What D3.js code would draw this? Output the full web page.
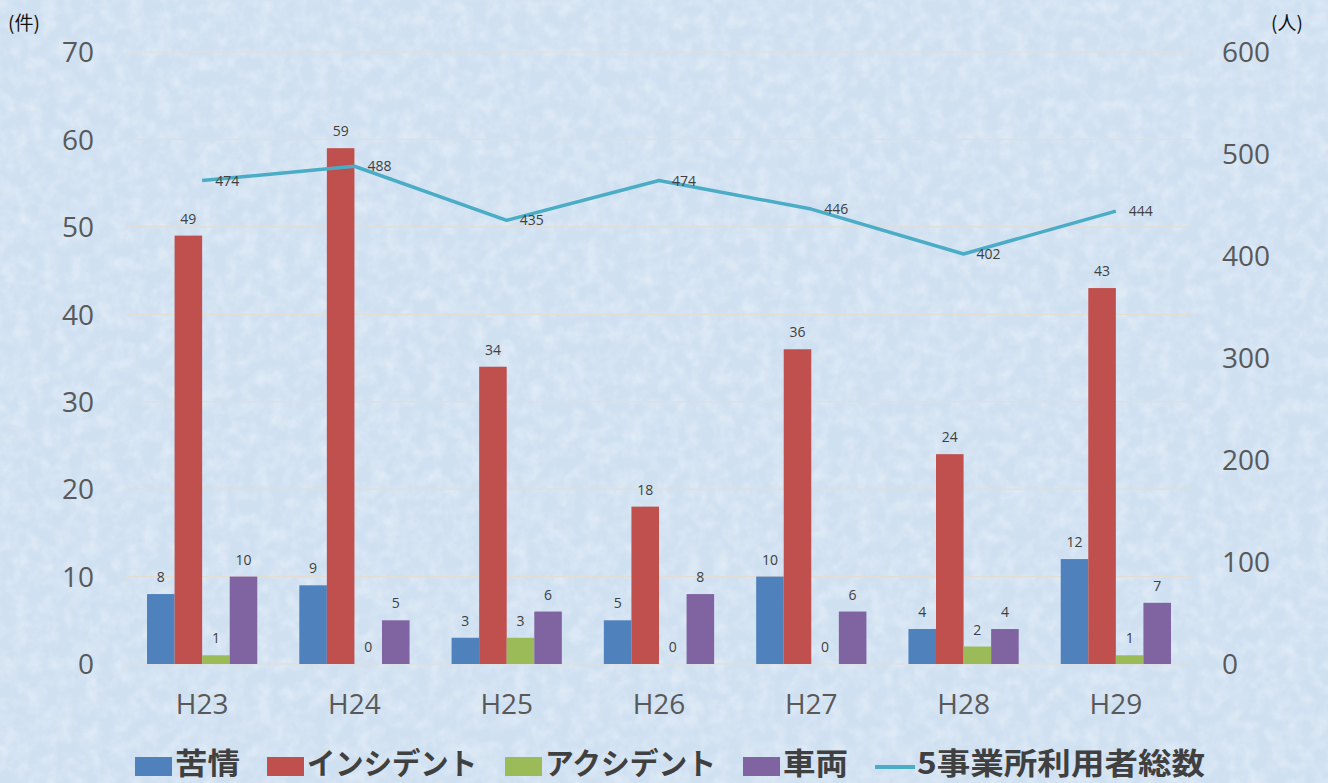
<!DOCTYPE html>
<html lang="ja">
<head>
<meta charset="UTF-8">
<script src="https://cdn.jsdelivr.net/npm/d3@7"></script>
<title>件数と利用者総数</title>
<style>
    body { margin: 0; background: #d8e7f4; }
    svg { display: block; font-family: "Noto Sans CJK JP", "Noto Sans", sans-serif; }
</style>
</head>
<body>
<svg width="1328" height="783"></svg>
<script>
    var years = ["H23", "H24", "H25", "H26", "H27", "H28", "H29"];
    var kujo = [8, 9, 3, 5, 10, 4, 12];
    var incident = [49, 59, 34, 18, 36, 24, 43];
    var accident = [1, 0, 3, 0, 0, 2, 1];
    var sharyo = [10, 5, 6, 8, 6, 4, 7];
    var users = [474, 488, 435, 474, 446, 402, 444];
    var leftTicks = [0, 10, 20, 30, 40, 50, 60, 70];
    var rightTicks = [0, 100, 200, 300, 400, 500, 600];

    var series = [
        {name: "苦情", values: kujo, color: "#4f81bd"},
        {name: "インシデント", values: incident, color: "#c0504d"},
        {name: "アクシデント", values: accident, color: "#9bbb59"},
        {name: "車両", values: sharyo, color: "#8064a2"}
    ];
    var lineColor = "#4bacc6";

    var svg = d3.select("svg");
    var width = 1328, height = 783;
    var plot = {left: 126, right: 1192, top: 52, bottom: 664};

    // textured background
    var defs = svg.append("defs");
    var f = defs.append("filter").attr("id", "tex").attr("x", 0).attr("y", 0)
        .attr("width", "100%").attr("height", "100%");
    f.append("feTurbulence").attr("type", "fractalNoise").attr("baseFrequency", 0.07)
        .attr("numOctaves", 3).attr("seed", 4).attr("result", "n");
    f.append("feColorMatrix").attr("in", "n").attr("type", "matrix")
        .attr("values", "0 0 0 0 1  0 0 0 0 1  0 0 0 0 1  1.1 0 0 0 -0.4");
    svg.append("rect").attr("width", width).attr("height", height).attr("fill", "#cfe0f1");
    svg.append("rect").attr("width", width).attr("height", height)
        .attr("filter", "url(#tex)").attr("opacity", 0.6);

    var x = d3.scaleBand().domain(years).range([plot.left, plot.right])
        .paddingInner(0.276).paddingOuter(0.138);
    var xs = d3.scaleBand().domain(d3.range(series.length)).range([0, x.bandwidth()]);
    var y = d3.scaleLinear().domain([0, 70]).range([plot.bottom, plot.top]);
    var y2 = d3.scaleLinear().domain([0, 600]).range([plot.bottom, plot.top]);

    // gridlines
    svg.append("g").selectAll("line").data(leftTicks).enter().append("line")
        .attr("x1", plot.left).attr("x2", plot.right)
        .attr("y1", function (d) { return y(d); }).attr("y2", function (d) { return y(d); })
        .attr("stroke", "#e3ddd6").attr("stroke-width", 1.2);

    // left axis
    var axL = svg.append("g").attr("transform", "translate(94,0)")
        .call(d3.axisLeft(y).tickValues(leftTicks).tickSize(0).tickPadding(0));
    axL.select(".domain").remove();
    axL.selectAll("text").attr("font-size", 28).attr("fill", "#595959")
        .attr("font-family", "Open Sans, sans-serif").attr("dy", "0.35em");

    // right axis
    var axR = svg.append("g").attr("transform", "translate(1222,0)")
        .call(d3.axisRight(y2).tickValues(rightTicks).tickSize(0).tickPadding(0));
    axR.select(".domain").remove();
    axR.selectAll("text").attr("font-size", 28).attr("fill", "#595959")
        .attr("font-family", "Open Sans, sans-serif").attr("dy", "0.35em");

    // x axis labels
    var axB = svg.append("g").attr("transform", "translate(0," + plot.bottom + ")")
        .call(d3.axisBottom(x).tickSize(0).tickPadding(30));
    axB.select(".domain").remove();
    axB.selectAll("text").attr("font-size", 28).attr("fill", "#595959")
        .attr("font-family", "Open Sans, sans-serif");

    // unit labels
    svg.append("text").attr("x", 8).attr("y", 30).attr("font-size", 19).attr("fill", "#111").text("(件)");
    svg.append("text").attr("x", 1271).attr("y", 30).attr("font-size", 19).attr("fill", "#111").text("(人)");

    // bars
    series.forEach(function (s, si) {
        var g = svg.append("g");
        g.selectAll("rect").data(s.values).enter().append("rect")
            .attr("x", function (d, i) { return x(years[i]) + xs(si); })
            .attr("y", function (d) { return y(d); })
            .attr("width", xs.bandwidth())
            .attr("height", function (d) { return y(0) - y(d); })
            .attr("fill", s.color);
        g.selectAll("text").data(s.values).enter().append("text")
            .attr("x", function (d, i) { return x(years[i]) + xs(si) + xs.bandwidth() / 2; })
            .attr("y", function (d) { return y(d) - 12; })
            .attr("text-anchor", "middle")
            .attr("font-size", 14).attr("fill", "#404040")
            .attr("font-family", "Open Sans, sans-serif")
            .text(function (d) { return d; });
    });

    // line
    var line = d3.line()
        .x(function (d, i) { return x(years[i]) + x.bandwidth() / 2; })
        .y(function (d) { return y2(d); });
    svg.append("path").datum(users).attr("d", line)
        .attr("fill", "none").attr("stroke", lineColor).attr("stroke-width", 3.5)
        .attr("stroke-linejoin", "round");
    svg.append("g").selectAll("text").data(users).enter().append("text")
        .attr("x", function (d, i) { return x(years[i]) + x.bandwidth() / 2 + 13; })
        .attr("y", function (d) { return y2(d) + 5; })
        .attr("font-size", 14).attr("fill", "#404040")
        .attr("font-family", "Open Sans, sans-serif")
        .text(function (d) { return d; });

    // legend
    var legendItems = series.map(function (s) { return {name: s.name, color: s.color, type: "rect"}; })
        .concat([{name: "5事業所利用者総数", color: lineColor, type: "line"}]);
    var legX = [135, 267, 505, 743, 875];
    var legW = [65, 170, 171, 65, 288];
    var lg = svg.append("g").attr("transform", "translate(0,775)");
    legendItems.forEach(function (d, i) {
        var it = lg.append("g").attr("transform", "translate(" + legX[i] + ",0)");
        if (d.type === "rect") {
            it.append("rect").attr("x", 0).attr("y", -18).attr("width", 37).attr("height", 19).attr("fill", d.color);
        } else {
            it.append("line").attr("x1", 0).attr("x2", 40).attr("y1", -8).attr("y2", -8)
                .attr("stroke", d.color).attr("stroke-width", 4);
        }
        it.append("text").attr("x", d.type === "rect" ? 40 : 42).attr("y", -1)
            .attr("font-size", 30).attr("font-weight", "bold").attr("fill", "#404040")
            .attr("textLength", legW[i]).attr("lengthAdjust", "spacingAndGlyphs")
            .text(d.name);
    });
</script>
</body>
</html>
